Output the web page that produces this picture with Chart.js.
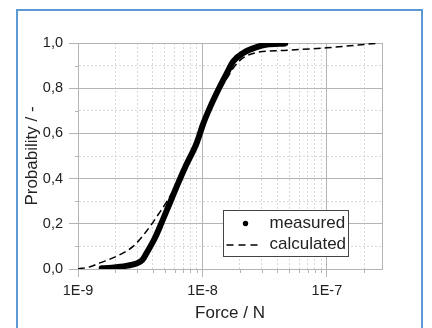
<!DOCTYPE html>
<html lang="en">
<head>
<meta charset="UTF-8">
<title>Force probability</title>
<script src="https://cdn.jsdelivr.net/npm/chart.js"></script>
<style>
    html, body { margin: 0; padding: 0; background: #fff; overflow: hidden; }
    body { width: 432px; height: 328px; position: relative; }
    .frame {
        position: absolute; left: 16px; top: 9px;
        width: 403px; height: 400px;
        border: 2px solid #5b9bd5; border-bottom: none;
    }
    #chart { position: absolute; left: 0; top: 0; }
</style>
</head>
<body>
<div class="frame"></div>
<canvas id="chart" width="432" height="328"></canvas>
<script>
// measured distribution (force in N, cumulative probability)
const measuredForce = [1.55e-9, 1.75e-9, 2.04e-9, 2.5e-9, 2.95e-9, 3.3e-9, 3.56e-9, 4.15e-9, 4.69e-9, 5.47e-9, 6.38e-9, 7.4e-9, 8.98e-9, 1.01e-8, 1.15e-8, 1.34e-8, 1.57e-8, 1.77e-8, 2.13e-8, 2.73e-8, 3.3e-8, 4.62e-8];
const measuredProb  = [0.003, 0.004, 0.008, 0.015, 0.024, 0.041, 0.071, 0.137, 0.204, 0.292, 0.38, 0.46, 0.557, 0.64, 0.715, 0.793, 0.867, 0.919, 0.956, 0.982, 0.993, 0.998];

// calculated distribution
const calculatedForce = [1.0e-9, 1.25e-9, 1.5e-9, 2.04e-9, 2.77e-9, 3.56e-9, 4.55e-9, 5.2e-9, 6.2e-9, 7.69e-9, 8.98e-9, 1.01e-8, 1.15e-8, 1.34e-8, 1.6e-8, 1.8e-8, 2.13e-8, 2.73e-8, 4.5e-8, 1.0e-7, 2.45e-7];
const calculatedProb  = [0, 0.01, 0.027, 0.056, 0.1, 0.168, 0.252, 0.3, 0.375, 0.47, 0.555, 0.64, 0.712, 0.787, 0.85, 0.895, 0.935, 0.958, 0.967, 0.979, 0.998];

// axes
const xMajorTicks = [1e-9, 1e-8, 1e-7];
const xTickLabels = ['1E-9', '1E-8', '1E-7'];
const yTickValues = [0, 0.2, 0.4, 0.6, 0.8, 1.0];
const yTickLabels = ['0,0', '0,2', '0,4', '0,6', '0,8', '1,0'];
const xMin = 1e-9, xMax = 2.77e-7;

const MAJOR = '#b4b4b4';
const MINOR = '#d8d8d8';
const TEXT = '#222';

function toPoints(xs, ys) {
    return xs.map((x, i) => ({ x: x, y: ys[i] }));
}

// minor positions 2..9 in each decade
const xAllTicks = [];
xMajorTicks.forEach(d => {
    for (let m = 1; m <= 9; m++) {
        const v = m * d;
        if (v <= xMax * 1.0001) xAllTicks.push(v);
    }
});
const yAllTicks = [];
for (let i = 0; i <= 10; i++) yAllTicks.push(i / 10);

function xMajorIndex(v) {
    return xMajorTicks.findIndex(t => Math.abs(v / t - 1) < 1e-6);
}
function yMajorIndex(v) {
    return yTickValues.findIndex(t => Math.abs(v - t) < 1e-6);
}

// plot frame, minor tick marks and the in-plot legend
const framePlugin = {
    id: 'framePlugin',
    beforeDatasetsDraw(chart) {
        const a = chart.chartArea, ctx = chart.ctx;
        ctx.save();
        ctx.strokeStyle = MAJOR;
        ctx.lineWidth = 1;
        ctx.strokeRect(Math.round(a.left) + 0.5, Math.round(a.top) + 0.5,
            Math.round(a.right - a.left), Math.round(a.bottom - a.top));
        ctx.restore();
    },
    afterDraw(chart) {
        const a = chart.chartArea, ctx = chart.ctx;
        const xs = chart.scales.x, ys = chart.scales.y;
        ctx.save();
        ctx.strokeStyle = MAJOR;
        ctx.lineWidth = 1;
        ctx.beginPath();
        xAllTicks.forEach(v => {
            if (xMajorIndex(v) >= 0) return;
            const px = Math.round(xs.getPixelForValue(v)) + 0.5;
            ctx.moveTo(px, a.bottom);
            ctx.lineTo(px, a.bottom + 4);
        });
        yAllTicks.forEach(v => {
            if (yMajorIndex(v) >= 0) return;
            const py = Math.round(ys.getPixelForValue(v)) + 0.5;
            ctx.moveTo(a.left - 3, py);
            ctx.lineTo(a.left, py);
        });
        ctx.stroke();

        // legend box
        const bx = Math.round(a.right - 159) + 0.5, by = Math.round(a.bottom - 59) + 0.5;
        const bw = 125, bh = 46;
        ctx.fillStyle = '#fff';
        ctx.fillRect(bx, by, bw, bh);
        ctx.strokeStyle = '#444';
        ctx.strokeRect(bx, by, bw, bh);

        ctx.fillStyle = '#000';
        ctx.beginPath();
        ctx.arc(bx + 22, by + 13, 2.7, 0, Math.PI * 2);
        ctx.fill();

        ctx.strokeStyle = '#000';
        ctx.lineWidth = 1.5;
        ctx.setLineDash([7, 5]);
        ctx.beginPath();
        ctx.moveTo(bx + 3, by + 34.5);
        ctx.lineTo(bx + 37, by + 34.5);
        ctx.stroke();
        ctx.setLineDash([]);

        ctx.fillStyle = TEXT;
        ctx.font = '17px "Liberation Sans", Arial, sans-serif';
        ctx.textBaseline = 'middle';
        ctx.textAlign = 'left';
        ctx.fillText('measured', bx + 46, by + 13);
        ctx.fillText('calculated', bx + 46, by + 34);
        ctx.restore();
    }
};

const tickFont = { family: '"Liberation Sans", Arial, sans-serif', size: 14.5 };
const titleFont = { family: '"Liberation Sans", Arial, sans-serif', size: 17 };

new Chart(document.getElementById('chart'), {
    type: 'line',
    data: {
        datasets: [{
            label: 'measured',
            data: toPoints(measuredForce, measuredProb),
            borderColor: '#000',
            backgroundColor: '#000',
            borderWidth: 6,
            pointRadius: 0,
            borderCapStyle: 'round',
            borderJoinStyle: 'round',
            cubicInterpolationMode: 'monotone'
        }, {
            label: 'calculated',
            data: toPoints(calculatedForce, calculatedProb),
            borderColor: '#000',
            borderWidth: 1.5,
            borderDash: [7, 4],
            pointRadius: 0,
            cubicInterpolationMode: 'monotone'
        }]
    },
    options: {
        responsive: false,
        animation: false,
        devicePixelRatio: 1,
        layout: { padding: { left: 18, right: 50, top: 43, bottom: 0 } },
        plugins: { legend: { display: false }, tooltip: { enabled: false } },
        scales: {
            x: {
                type: 'logarithmic',
                min: xMin,
                max: xMax,
                afterBuildTicks: s => { s.ticks = xAllTicks.map(v => ({ value: v })); },
                afterFit: s => { s.height = 59; },
                ticks: {
                    autoSkip: false,
                    maxRotation: 0,
                    padding: 5,
                    color: TEXT,
                    font: tickFont,
                    callback: v => { const i = xMajorIndex(v); return i >= 0 ? xTickLabels[i] : ''; }
                },
                grid: {
                    color: c => (c.tick && xMajorIndex(c.tick.value) < 0) ? MINOR : MAJOR,
                    tickColor: c => (c.tick && xMajorIndex(c.tick.value) < 0) ? 'rgba(0,0,0,0)' : MAJOR,
                    tickLength: 8
                },
                border: {
                    color: MAJOR,
                    dash: c => (c.tick && xMajorIndex(c.tick.value) < 0) ? [2, 2] : []
                },
                title: { display: true, text: 'Force / N', color: TEXT, font: titleFont, padding: { top: 4, bottom: 4 } }
            },
            y: {
                type: 'linear',
                min: 0,
                max: 1,
                afterBuildTicks: s => { s.ticks = yAllTicks.map(v => ({ value: v })); },
                afterFit: s => { s.width = 60; },
                ticks: {
                    padding: 6,
                    color: TEXT,
                    font: tickFont,
                    callback: v => { const i = yMajorIndex(v); return i >= 0 ? yTickLabels[i] : ''; }
                },
                grid: {
                    color: c => (c.tick && yMajorIndex(c.tick.value) < 0) ? MINOR : MAJOR,
                    tickColor: c => (c.tick && yMajorIndex(c.tick.value) < 0) ? 'rgba(0,0,0,0)' : MAJOR,
                    tickLength: 9
                },
                border: {
                    color: MAJOR,
                    dash: c => (c.tick && yMajorIndex(c.tick.value) < 0) ? [2, 2] : []
                },
                title: { display: true, text: 'Probability / -', color: TEXT, font: titleFont, padding: { top: 4, bottom: 4 } }
            }
        }
    },
    plugins: [framePlugin]
});
</script>
</body>
</html>
